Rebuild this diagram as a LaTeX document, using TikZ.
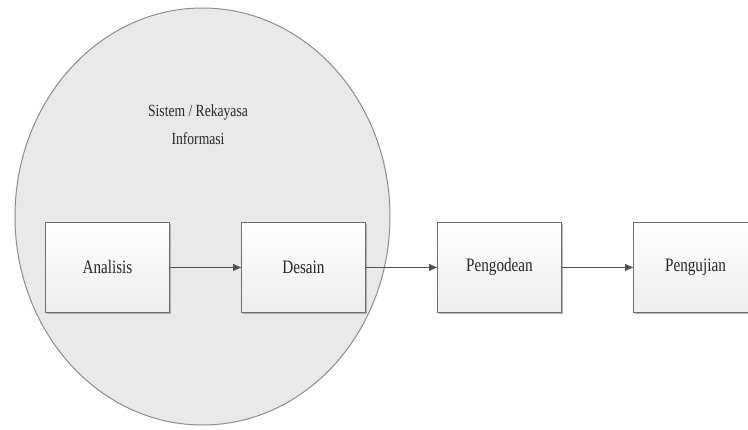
\documentclass[tikz,border=0pt]{standalone}
\usepackage{fontspec}
\setmainfont[FakeStretch=0.8]{Liberation Serif}
\usetikzlibrary{shadows,arrows.meta,shapes.geometric}
\definecolor{ellfill}{HTML}{E9E9E9}
\definecolor{ellline}{HTML}{8C8C8C}
\definecolor{boxline}{HTML}{6E6E6E}
\definecolor{arr}{HTML}{505050}
\tikzset{
  stagebox/.style={draw=boxline, line width=0.9pt, top color=white, bottom color=gray!14,
    minimum width=124pt, minimum height=90pt, inner sep=0pt, anchor=north west,
    drop shadow={shadow xshift=1.5pt, shadow yshift=-2pt, fill=gray!80, opacity=0.7},
    font=\fontsize{19}{20}\selectfont, text=black!85},
  flow/.style={draw=arr, line width=0.9pt, -{Triangle[length=8pt,width=7pt]}}
}
\begin{document}
\begin{tikzpicture}[x=1pt,y=-1pt]
\useasboundingbox (0,0) rectangle (748,429);
\clip (0,0) rectangle (748,429);
\fill[white] (0,0) rectangle (748,429);
\node[draw=ellline, fill=ellfill, line width=1pt, ellipse, minimum width=375pt, minimum height=417pt, inner sep=0pt] (ell) at (202.5,216.5) {};
\node[align=center, font=\fontsize{17}{28}\selectfont, text=black!85] (title) at (198,125) {Sistem / Rekayasa\\Informasi};
\node[stagebox] (a) at (45,222) {Analisis};
\node[stagebox] (d) at (241,222) {Desain};
\node[stagebox] (p) at (437,222) {Pengodean};
\node[stagebox] (u) at (633,222) {Pengujian};
\draw[flow] (a) -- (d);
\draw[flow] (d) -- (p);
\draw[flow] (p) -- (u);
\end{tikzpicture}
\end{document}
